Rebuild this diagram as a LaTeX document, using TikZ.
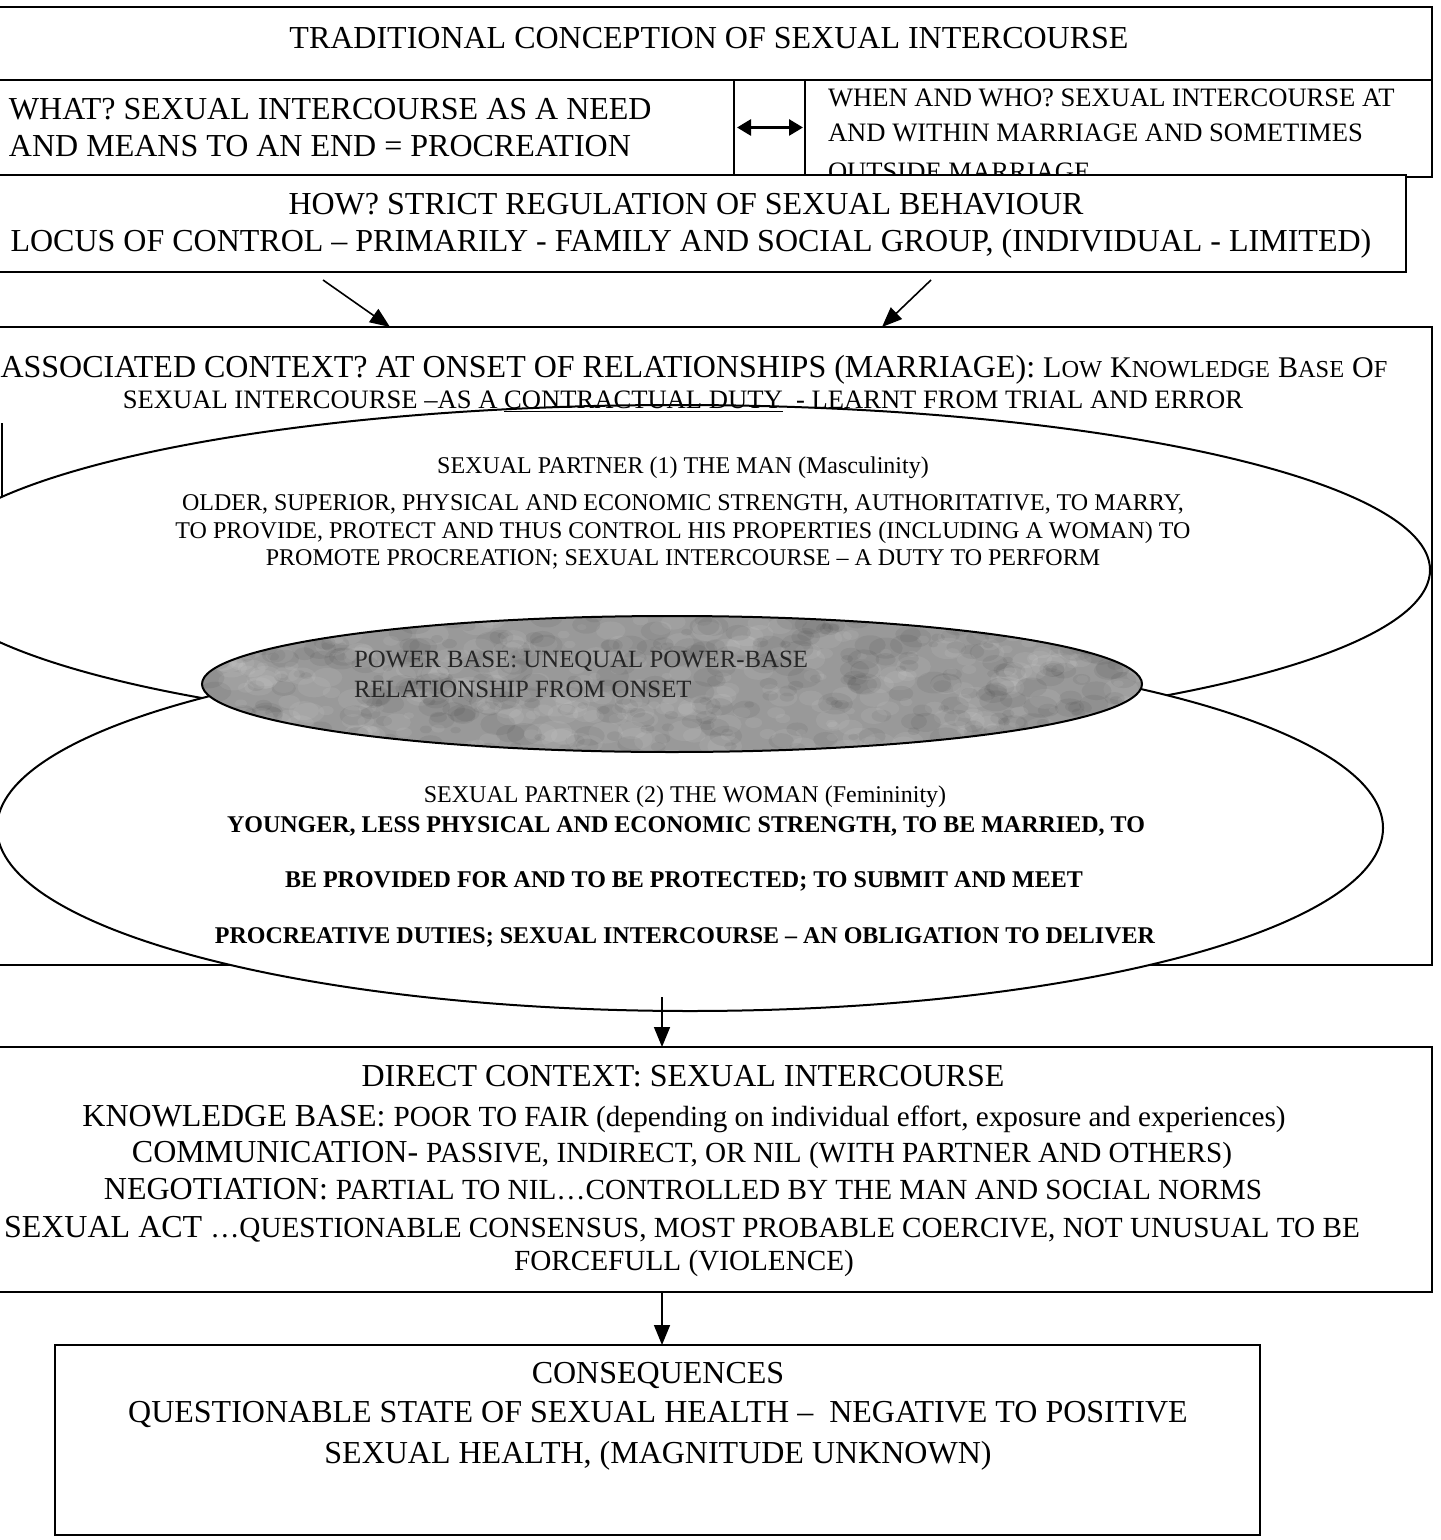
\documentclass[tikz,border=0pt]{standalone}
\usepackage{fontspec}
\setmainfont{Liberation Serif}
\usetikzlibrary{arrows.meta,shapes.geometric,fit}

% type sizes used in the chart
\newcommand\szL{\fontsize{16}{19}\selectfont}
\newcommand\szM{\fontsize{13.3}{16}\selectfont}
\newcommand\szS{\fontsize{12}{14}\selectfont}
\newcommand\szR{\fontsize{14.6}{17}\selectfont}
% capital-and-small-capital word: larger first letter, smaller rest
\newcommand\capsc[2]{{\fontsize{15}{17}\selectfont #1}{\fontsize{12.2}{14}\selectfont #2}}

\tikzset{
  panel/.style={draw, line width=1.1pt, fill=white, inner sep=0pt, outer sep=0pt},
  oval/.style={ellipse, draw, line width=1pt, inner sep=0pt, outer sep=0pt},
  lbl/.style={inner sep=0pt, outer sep=0pt, anchor=base},
  lblw/.style={lbl, anchor=base west},
  txtL/.style={font=\szL},
  txtM/.style={font=\szM},
  txtS/.style={font=\szS},
  txtSB/.style={font=\szS\bfseries},
  flow/.style={line width=0.8pt, -{Triangle[length=10pt,width=8pt]}},
  twoway/.style={line width=1.4pt, {Triangle[length=7pt,width=8pt]}-{Triangle[length=7pt,width=8pt]}},
}

\begin{document}
\begin{tikzpicture}[x=0.5pt, y=-0.5pt]
\useasboundingbox (0,0) rectangle (1440,1540);
\fill[white] (0,0) rectangle (1440,1540);

% ---- heading band ----
\node[panel, fit={(-6,7) (1432,80)}] (title) {};
\node[lbl, txtL] (titletxt) at (709,49) {TRADITIONAL CONCEPTION OF SEXUAL INTERCOURSE};

% ---- what / when row ----
\node[panel, fit={(-6,80) (734,175)}] (what) {};
\node[panel, fit={(734,80) (805,175)}] (pair) {};
\node[panel, fit={(805,80) (1432,177)}] (when) {};
\node[lblw, txtL] (what1) at (9,120) {WHAT? SEXUAL INTERCOURSE AS A NEED};
\node[lblw, txtL] (what2) at (9,157) {AND MEANS TO AN END = PROCREATION};
\node[lblw, txtM] (when1) at (828,107) {WHEN AND WHO? SEXUAL INTERCOURSE AT};
\node[lblw, txtM] (when2) at (828,142) {AND WITHIN MARRIAGE AND SOMETIMES};
\node[lblw, txtM] (when3) at (828,181) {OUTSIDE MARRIAGE};
\draw[twoway] ([xshift=1.5pt]pair.west) -- ([xshift=-1pt]pair.east);

% ---- how band ----
\node[panel, fit={(-6,175) (1406,272)}] (how) {};
\node[lbl, txtL] (how1) at (686,215) {HOW? STRICT REGULATION OF SEXUAL BEHAVIOUR};
\node[lbl, txtL] (how2) at (691,252) {LOCUS OF CONTROL -- PRIMARILY - FAMILY AND SOCIAL GROUP, (INDIVIDUAL - LIMITED)};

% ---- associated context frame ----
\node[panel, fit={(-6,327) (1432,965)}] (assoc) {};
\draw[line width=1pt] (1.5,423) -- (1.5,500);

\coordinate (ha) at (323,280);
\coordinate (hb) at (931,280);
\coordinate (aa) at (390,327);
\coordinate (ab) at (882,327);
\draw[flow] (ha) -- (aa);
\draw[flow] (hb) -- (ab);

% the two partners and the shared power base
\node[oval, fill=white, minimum width=753pt, minimum height=165pt] (man) at (677,570) {};
\node[oval, fill=white, minimum width=693pt, minimum height=183pt] (woman) at (690,828) {};
\node[ellipse, fill=black!40, inner sep=0pt, minimum width=470pt, minimum height=68pt] (power) at (672,684) {};
\begin{scope}
  \clip (power.center) ellipse [x radius=235pt, y radius=34pt];
  \pgfmathsetseed{42}
  \foreach \k in {1,...,700}{
    \pgfmathsetmacro\tx{672+470*rand}
    \pgfmathsetmacro\ty{684+68*rand}
    \pgfmathsetmacro\tr{1.5+4*rnd}
    \pgfmathtruncatemacro\tg{random(0,1)}
    \ifnum\tg=0
      \fill[white, opacity=.07] (\tx,\ty) ellipse [x radius=1.6*\tr pt, y radius=\tr pt];
    \else
      \fill[black, opacity=.06] (\tx,\ty) ellipse [x radius=1.6*\tr pt, y radius=\tr pt];
    \fi
  }
\end{scope}
\draw[line width=1pt] (power.center) ellipse [x radius=235pt, y radius=34pt];

\node[lbl] (assoc1) at (694,377) {\szL ASSOCIATED CONTEXT? AT ONSET OF RELATIONSHIPS (MARRIAGE): \capsc{L}{OW} \capsc{K}{NOWLEDGE} \capsc{B}{ASE} \capsc{O}{F}};
\node[lbl, txtM] (assoc2) at (683,408) {SEXUAL INTERCOURSE --AS A \underline{CONTRACTUAL DUTY}\ \ - LEARNT FROM TRIAL AND ERROR};

\node[lbl, txtS] (man0) at (683,473) {SEXUAL PARTNER (1) THE MAN (Masculinity)};
\node[lbl, txtS] (man1) at (683,510) {OLDER, SUPERIOR, PHYSICAL AND ECONOMIC STRENGTH, AUTHORITATIVE, TO MARRY,};
\node[lbl, txtS] (man2) at (683,538) {TO PROVIDE, PROTECT AND THUS CONTROL HIS PROPERTIES (INCLUDING A WOMAN) TO};
\node[lbl, txtS] (man3) at (683,565) {PROMOTE PROCREATION; SEXUAL INTERCOURSE -- A DUTY TO PERFORM};

\node[lblw, font=\fontsize{12.4}{14}\selectfont, text=black!85] (pow1) at (354,667) {POWER BASE: UNEQUAL POWER-BASE};
\node[lblw, font=\fontsize{12.4}{14}\selectfont, text=black!85] (pow2) at (354,697) {RELATIONSHIP FROM ONSET};

\node[lbl, txtS] (wom0) at (685,802) {SEXUAL PARTNER (2) THE WOMAN (Femininity)};
\node[lbl, txtSB] (wom1) at (686,832) {YOUNGER, LESS PHYSICAL AND ECONOMIC STRENGTH, TO BE MARRIED, TO};
\node[lbl, txtSB] (wom2) at (684,887) {BE PROVIDED FOR AND TO BE PROTECTED; TO SUBMIT AND MEET};
\node[lbl, txtSB] (wom3) at (685,943) {PROCREATIVE DUTIES; SEXUAL INTERCOURSE -- AN OBLIGATION TO DELIVER};

% ---- direct context ----
\node[panel, fit={(-6,1047) (1432,1292)}] (direct) {};
\node[lbl, txtL] (d1) at (683,1086) {DIRECT CONTEXT: SEXUAL INTERCOURSE};
\node[lbl] (d2) at (684,1126) {\szL KNOWLEDGE BASE: {\szR POOR TO FAIR (depending on individual effort, exposure and experiences)}};
\node[lbl] (d3) at (682,1162) {\szL COMMUNICATION- {\szR PASSIVE, INDIRECT, OR NIL (WITH PARTNER AND OTHERS)}};
\node[lbl] (d4) at (683,1199) {\szL NEGOTIATION: {\szR PARTIAL TO NIL…CONTROLLED BY THE MAN AND SOCIAL NORMS}};
\node[lbl] (d5) at (682,1237) {\szL SEXUAL ACT {\szR …QUESTIONABLE CONSENSUS, MOST PROBABLE COERCIVE, NOT UNUSUAL TO BE}};
\node[lbl] (d6) at (684,1270) {\szR FORCEFULL (VIOLENCE)};

% ---- consequences ----
\node[panel, fit={(55,1345) (1260,1535)}] (cons) {};
\node[lbl, txtL] (c1) at (658,1383) {CONSEQUENCES};
\node[lbl, txtL] (c2) at (658,1422) {QUESTIONABLE STATE OF SEXUAL HEALTH --\ \ NEGATIVE TO POSITIVE};
\node[lbl, txtL] (c3) at (658,1463) {SEXUAL HEALTH, (MAGNITUDE UNKNOWN)};

% ---- downward flow ----
\coordinate (wb) at (662,997);
\draw[flow] (wb) -- (wb |- direct.north);
\draw[flow] (direct.south -| wb) -- (wb |- cons.north);
\end{tikzpicture}
\end{document}
